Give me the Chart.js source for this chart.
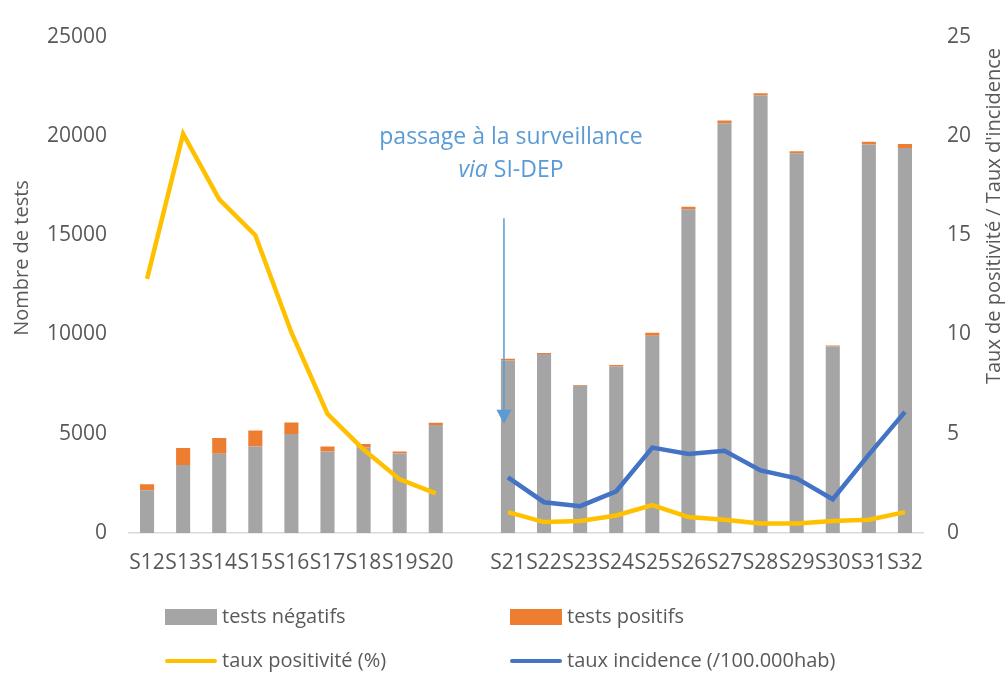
<!DOCTYPE html>
<html lang="fr">
<head>
<meta charset="UTF-8">
<title>Tests, taux de positivité et taux d'incidence</title>
<script src="https://cdn.jsdelivr.net/npm/chart.js"></script>
<style>
  html, body { margin: 0; padding: 0; background: #fff; }
  #wrap { width: 1006px; height: 674px; position: relative; }
</style>
</head>
<body>
<div id="wrap"><canvas id="chart"></canvas></div>
<script>
// semaines (une catégorie vide entre S20 et S21 pour le changement de source)
const semaines = ['S12', 'S13', 'S14', 'S15', 'S16', 'S17', 'S18', 'S19', 'S20', '',
  'S21', 'S22', 'S23', 'S24', 'S25', 'S26', 'S27', 'S28', 'S29', 'S30', 'S31', 'S32'];

const testsNegatifs = [2150, 3420, 3990, 4360, 4980, 4110, 4300, 4000, 5440, null,
  8690, 9020, 7410, 8390, 9940, 16300, 20630, 22040, 19130, 9390, 19570, 19390];
const testsPositifs = [310, 860, 800, 800, 580, 250, 180, 100, 115, null,
  90, 50, 45, 75, 140, 130, 140, 105, 90, 55, 135, 205];

const tauxPositivite = [12.8, 20.1, 16.8, 15.0, 10.1, 6.0, 4.2, 2.7, 2.0, null,
  1.05, 0.55, 0.6, 0.88, 1.4, 0.8, 0.67, 0.48, 0.48, 0.6, 0.67, 1.05];
const tauxIncidence = [null, null, null, null, null, null, null, null, null, null,
  2.8, 1.55, 1.35, 2.1, 4.3, 3.98, 4.14, 3.15, 2.75, 1.7, 3.95, 6.1];

const ticksTests = [0, 5000, 10000, 15000, 20000, 25000];
const ticksTaux = [0, 5, 10, 15, 20, 25];

const POLICE = '"Open Sans", sans-serif';
const GRIS_TEXTE = '#595959';
const BLEU_NOTE = '#5B9BD5';

// flèche, note, titres d'axes et légende sur 2 colonnes
const habillage = {
  id: 'habillage',
  afterDatasetsDraw(chart) {
    const ctx = chart.ctx;
    const x = chart.scales.x;
    const y = chart.scales.y;
    const xa = x.getPixelForValue(10) - 4;
    const yHaut = y.getPixelForValue(15850);
    const yPointe = y.getPixelForValue(5500);

    ctx.save();
    ctx.strokeStyle = BLEU_NOTE;
    ctx.fillStyle = BLEU_NOTE;
    ctx.lineWidth = 1.5;
    ctx.beginPath();
    ctx.moveTo(xa, yHaut);
    ctx.lineTo(xa, yPointe - 12);
    ctx.stroke();
    ctx.beginPath();
    ctx.moveTo(xa - 7.5, yPointe - 14);
    ctx.lineTo(xa + 7.5, yPointe - 14);
    ctx.lineTo(xa, yPointe);
    ctx.closePath();
    ctx.fill();

    const cx = xa + 7;
    ctx.textBaseline = 'middle';
    ctx.textAlign = 'center';
    ctx.font = '23px ' + POLICE;
    ctx.fillText('passage à la surveillance', cx, y.getPixelForValue(19900));

    // deuxième ligne : "via" en italique
    const yL2 = y.getPixelForValue(18250);
    ctx.font = 'italic 23px ' + POLICE;
    const wVia = ctx.measureText('via ').width;
    ctx.font = '23px ' + POLICE;
    const wSi = ctx.measureText('SI-DEP').width;
    let x0 = cx - (wVia + wSi) / 2;
    ctx.textAlign = 'left';
    ctx.font = 'italic 23px ' + POLICE;
    ctx.fillText('via ', x0, yL2);
    ctx.font = '23px ' + POLICE;
    ctx.fillText('SI-DEP', x0 + wVia, yL2);
    ctx.restore();
  },
  afterDraw(chart) {
    const ctx = chart.ctx;
    ctx.save();
    ctx.fillStyle = GRIS_TEXTE;
    ctx.textAlign = 'center';
    ctx.textBaseline = 'middle';
    ctx.font = '20px ' + POLICE;

    ctx.save();
    ctx.translate(22, 258);
    ctx.rotate(-Math.PI / 2);
    ctx.fillText('Nombre de tests', 0, 0);
    ctx.restore();

    ctx.save();
    ctx.translate(994, 216);
    ctx.rotate(-Math.PI / 2);
    ctx.fillText("Taux de positivité / Taux d'incidence", 0, 0);
    ctx.restore();

    // légende
    const colonnes = [165, 510];
    const lignes = [617, 661];
    ctx.textAlign = 'left';
    ctx.font = '20px ' + POLICE;
    chart.data.datasets.forEach((ds, i) => {
      const lx = colonnes[i % 2];
      const ly = lignes[Math.floor(i / 2)];
      if (ds.type === 'line') {
        ctx.strokeStyle = ds.borderColor;
        ctx.lineWidth = 4;
        ctx.lineCap = 'round';
        ctx.beginPath();
        ctx.moveTo(lx + 2, ly);
        ctx.lineTo(lx + 50, ly);
        ctx.stroke();
      } else {
        ctx.fillStyle = ds.backgroundColor;
        ctx.fillRect(lx, ly - 8, 52, 16);
      }
      ctx.fillStyle = GRIS_TEXTE;
      ctx.fillText(ds.label, lx + 57, ly);
    });
    ctx.restore();
  }
};

const ctx = document.getElementById('chart').getContext('2d');

new Chart(ctx, {
  data: {
    labels: semaines,
    datasets: [
      {
        type: 'bar',
        label: 'tests négatifs',
        data: testsNegatifs,
        backgroundColor: '#A5A5A5',
        stack: 'tests',
        yAxisID: 'y',
        order: 2,
        barPercentage: 0.39,
        categoryPercentage: 1
      },
      {
        type: 'bar',
        label: 'tests positifs',
        data: testsPositifs,
        backgroundColor: '#ED7D31',
        stack: 'tests',
        yAxisID: 'y',
        order: 2,
        barPercentage: 0.39,
        categoryPercentage: 1
      },
      {
        type: 'line',
        label: 'taux positivité (%)',
        data: tauxPositivite,
        borderColor: '#FFC000',
        borderWidth: 4.5,
        pointRadius: 0,
        tension: 0,
        spanGaps: false,
        yAxisID: 'y2',
        order: 1
      },
      {
        type: 'line',
        label: 'taux incidence (/100.000hab)',
        data: tauxIncidence,
        borderColor: '#4472C4',
        borderWidth: 4.5,
        pointRadius: 0,
        tension: 0,
        spanGaps: false,
        yAxisID: 'y2',
        order: 1
      }
    ]
  },
  options: {
    responsive: true,
    maintainAspectRatio: false,
    animation: false,
    layout: { padding: { top: 22, bottom: 0, left: 0, right: 0 } },
    plugins: {
      legend: { display: false },
      tooltip: { enabled: false }
    },
    scales: {
      x: {
        stacked: true,
        grid: { display: false, drawTicks: false },
        border: { display: true, color: '#D9D9D9', width: 1.5 },
        ticks: {
          color: GRIS_TEXTE,
          font: { family: POLICE, size: 21 },
          padding: 17,
          autoSkip: false,
          maxRotation: 0,
          minRotation: 0
        },
        afterFit: (scale) => { scale.height = 141; }
      },
      y: {
        stacked: true,
        position: 'left',
        min: ticksTests[0],
        max: ticksTests[ticksTests.length - 1],
        grid: { display: false, drawTicks: false },
        border: { display: false },
        ticks: {
          stepSize: ticksTests[1] - ticksTests[0],
          color: GRIS_TEXTE,
          font: { family: POLICE, size: 21 },
          padding: 22,
          callback: (v) => String(v)
        },
        afterFit: (scale) => { scale.width = 129; }
      },
      y2: {
        position: 'right',
        min: ticksTaux[0],
        max: ticksTaux[ticksTaux.length - 1],
        grid: { display: false, drawTicks: false },
        border: { display: false },
        ticks: {
          stepSize: ticksTaux[1] - ticksTaux[0],
          color: GRIS_TEXTE,
          font: { family: POLICE, size: 21 },
          padding: 24,
          callback: (v) => String(v)
        },
        afterFit: (scale) => { scale.width = 83; }
      }
    }
  },
  plugins: [habillage]
});
</script>
</body>
</html>
